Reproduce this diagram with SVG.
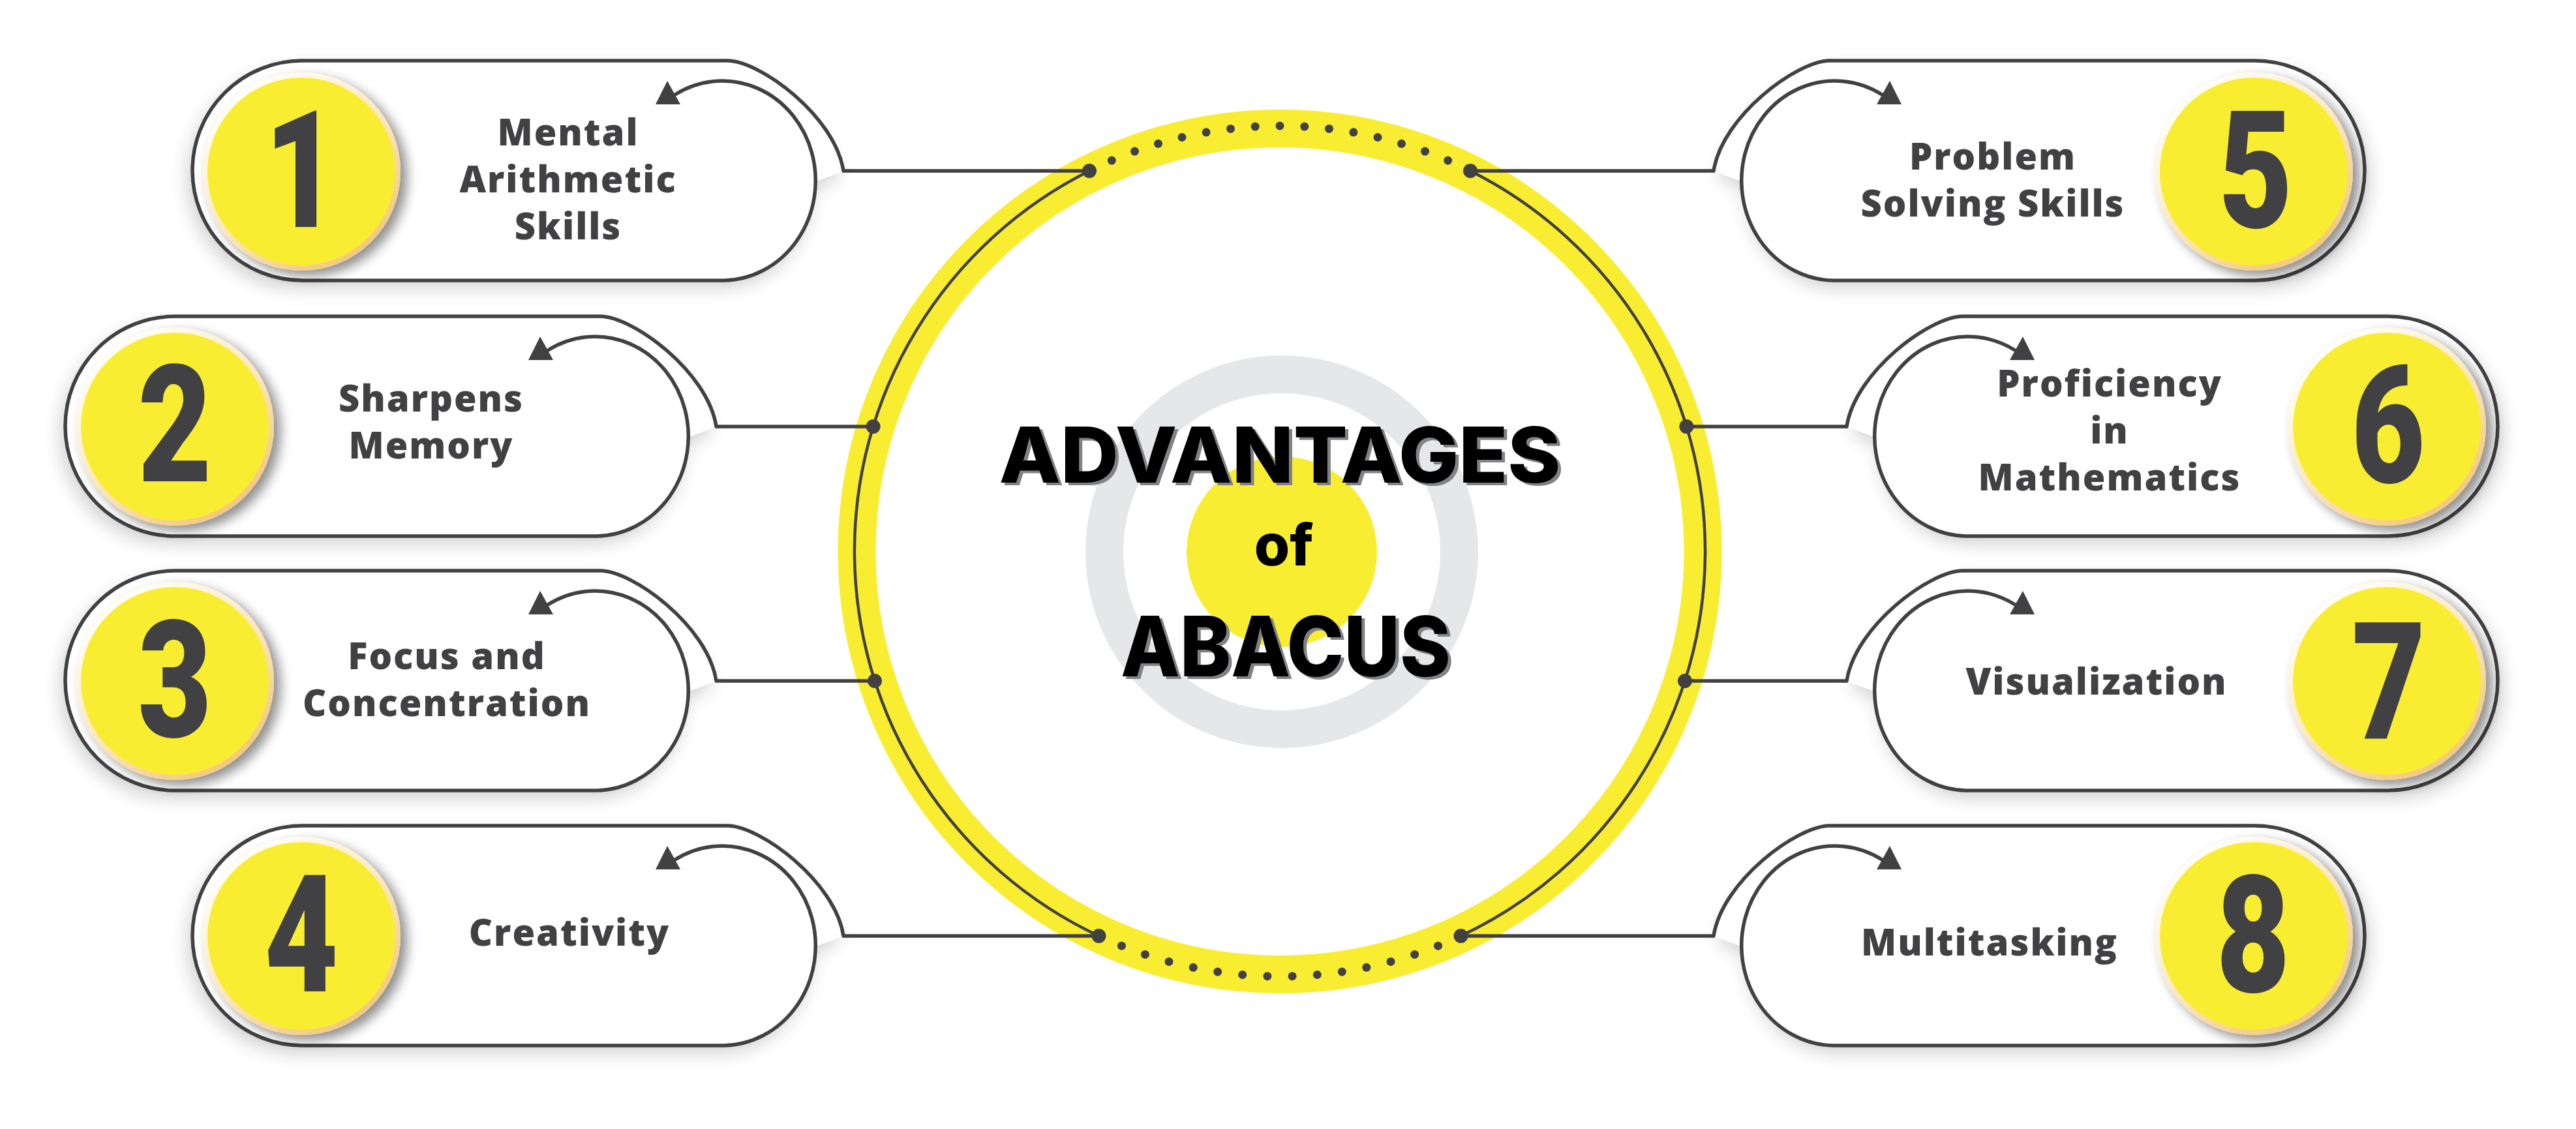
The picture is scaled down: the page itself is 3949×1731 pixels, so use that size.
<svg xmlns="http://www.w3.org/2000/svg" xmlns:xlink="http://www.w3.org/1999/xlink" width="3949" height="1731" viewBox="0 0 3949 1731">
<style>
  .ink { fill: none; stroke: #414042; stroke-width: 5.5; stroke-linejoin: round; stroke-linecap: round; }
  .arrow { fill: #414042; }
  .pillfill { fill: #ffffff; }
  .label { font-family: "Open Sans", "Liberation Sans", sans-serif; font-weight: 800; font-size: 56px; fill: #414042; text-anchor: middle; letter-spacing: 2px; }
  .digit { font-family: Roboto, "Liberation Sans", sans-serif; font-weight: 900; font-size: 250px; fill: #414042; text-anchor: middle; }
  .conn { fill: none; stroke: #414042; stroke-width: 5.5; }
  .arc { fill: none; stroke: #414042; stroke-width: 4.5; }
  .dot { fill: #414042; }
  .title { font-family: Inter, "Open Sans", "Liberation Sans", sans-serif; font-weight: 800; text-anchor: middle; }
</style>
<defs>
  <linearGradient id="rim" x1="0.2" y1="0.1" x2="0.8" y2="0.95">
    <stop offset="0" stop-color="#fffef6"/>
    <stop offset="0.5" stop-color="#fbe7bd"/>
    <stop offset="1" stop-color="#f2c679"/>
  </linearGradient>
  <filter id="badgeShadow" x="-30%" y="-30%" width="170%" height="170%">
    <feGaussianBlur in="SourceAlpha" stdDeviation="9"/>
    <feOffset dx="10" dy="8" result="b"/>
    <feComponentTransfer><feFuncA type="linear" slope="0.45"/></feComponentTransfer>
    <feMerge><feMergeNode/><feMergeNode in="SourceGraphic"/></feMerge>
  </filter>
  <filter id="pillShadow" x="-20%" y="-30%" width="140%" height="170%">
    <feGaussianBlur in="SourceAlpha" stdDeviation="14"/>
    <feOffset dx="-8" dy="12" result="b"/>
    <feComponentTransfer><feFuncA type="linear" slope="0.18"/></feComponentTransfer>
    <feMerge><feMergeNode/><feMergeNode in="SourceGraphic"/></feMerge>
  </filter>
  <g id="pill">
    <path class="pillfill" filter="url(#pillShadow)" d="M168.5,0 L820,0 C870,0 985,85 998,169 L958,184 A143,153 0 0 1 815,337 L168.5,337 A168.5,168.5 0 0 1 168.5,0 Z"/>
    <path class="ink" d="M998,169 C985,85 870,0 820,0 L168.5,0 A168.5,168.5 0 0 0 168.5,337 L815,337 A143,153 0 1 0 740,52"/>
    <polygon class="arrow" points="728,31 710,67 748,67"/>
  </g>
  <g id="badge">
    <circle r="152" fill="url(#rim)" filter="url(#badgeShadow)"/>
    <circle r="144" fill="#f9ed32"/>
  </g>
</defs>

<g id="center">
  <circle cx="1962" cy="845.5" r="648.5" fill="#ffffff" stroke="#f9ed32" stroke-width="58"/>
  <circle cx="1965" cy="846" r="272" fill="none" stroke="#e6e7e8" stroke-width="58"/>
  <circle cx="1965" cy="846" r="146" fill="#f9ed32"/>
  <text class="title" x="1967" y="744" font-size="118" fill="#808285" textLength="861" lengthAdjust="spacingAndGlyphs">ADVANTAGES</text>
  <text class="title" x="1962" y="740" font-size="118" fill="#000000" textLength="861" lengthAdjust="spacingAndGlyphs">ADVANTAGES</text>
  <text class="title" x="1968" y="867" font-size="88" fill="#000000">of</text>
  <text class="title" x="1976" y="1041" font-size="128" fill="#808285" textLength="506" lengthAdjust="spacingAndGlyphs">ABACUS</text>
  <text class="title" x="1971" y="1037" font-size="128" fill="#000000" textLength="506" lengthAdjust="spacingAndGlyphs">ABACUS</text>
</g>

<g id="connectors">
  <path class="arc" d="M1670,262 A652,652 0 0 0 1684.5,1435"/>
  <path class="arc" d="M2254,262 A652,652 0 0 1 2239.5,1435"/>
  <line class="conn" x1="1293" y1="262" x2="1670" y2="262"/>
  <line class="conn" x1="1098" y1="654" x2="1338.6" y2="654"/>
  <line class="conn" x1="1098" y1="1044" x2="1341" y2="1044"/>
  <line class="conn" x1="1293" y1="1435" x2="1684.5" y2="1435"/>
  <line class="conn" x1="2627" y1="262" x2="2254" y2="262"/>
  <line class="conn" x1="2831" y1="654" x2="2585.4" y2="654"/>
  <line class="conn" x1="2831" y1="1044" x2="2583" y2="1044"/>
  <line class="conn" x1="2627" y1="1435" x2="2239.5" y2="1435"/>
  <g class="dot">
    <circle cx="1670" cy="262" r="11"/>
    <circle cx="1338.6" cy="654" r="11"/>
    <circle cx="1341" cy="1044" r="11"/>
    <circle cx="1684.5" cy="1435" r="11"/>
    <circle cx="2254" cy="262" r="11"/>
    <circle cx="2585.4" cy="654" r="11"/>
    <circle cx="2583" cy="1044" r="11"/>
    <circle cx="2239.5" cy="1435" r="11"/>
    <circle cx="1704.3" cy="246.1" r="6.5"/>
    <circle cx="1739.5" cy="232.1" r="6.5"/>
    <circle cx="1775.5" cy="220.3" r="6.5"/>
    <circle cx="1812" cy="210.5" r="6.5"/>
    <circle cx="1849.1" cy="202.8" r="6.5"/>
    <circle cx="1886.5" cy="197.4" r="6.5"/>
    <circle cx="1924.2" cy="194.1" r="6.5"/>
    <circle cx="1962" cy="193" r="6.5"/>
    <circle cx="1999.8" cy="194.1" r="6.5"/>
    <circle cx="2037.5" cy="197.4" r="6.5"/>
    <circle cx="2074.9" cy="202.8" r="6.5"/>
    <circle cx="2112" cy="210.5" r="6.5"/>
    <circle cx="2148.5" cy="220.3" r="6.5"/>
    <circle cx="2184.5" cy="232.1" r="6.5"/>
    <circle cx="2219.7" cy="246.1" r="6.5"/>
    <circle cx="1719.5" cy="1450.2" r="6.5"/>
    <circle cx="1755.4" cy="1463.4" r="6.5"/>
    <circle cx="1792" cy="1474.4" r="6.5"/>
    <circle cx="1829.2" cy="1483.3" r="6.5"/>
    <circle cx="1866.7" cy="1490" r="6.5"/>
    <circle cx="1904.7" cy="1494.5" r="6.5"/>
    <circle cx="1942.9" cy="1496.7" r="6.5"/>
    <circle cx="1981.1" cy="1496.7" r="6.5"/>
    <circle cx="2019.3" cy="1494.5" r="6.5"/>
    <circle cx="2057.3" cy="1490" r="6.5"/>
    <circle cx="2094.8" cy="1483.3" r="6.5"/>
    <circle cx="2132" cy="1474.4" r="6.5"/>
    <circle cx="2168.6" cy="1463.4" r="6.5"/>
    <circle cx="2204.5" cy="1450.2" r="6.5"/>
  </g>
</g>

<g id="node-1">
  <use href="#pill" xlink:href="#pill" transform="translate(295,93)"/>
  <use href="#badge" xlink:href="#badge" transform="translate(462,263)"/>
  <text class="digit" transform="translate(462,348) scale(0.78,1)">1</text>
  <text class="label" x="871" y="223">Mental</text>
  <text class="label" x="871" y="295">Arithmetic</text>
  <text class="label" x="871" y="367">Skills</text>
</g>
<g id="node-2">
  <use href="#pill" xlink:href="#pill" transform="translate(100,485)"/>
  <use href="#badge" xlink:href="#badge" transform="translate(268,654)"/>
  <text class="digit" transform="translate(268,738) scale(0.78,1)">2</text>
  <text class="label" x="661" y="631">Sharpens</text>
  <text class="label" x="661" y="703">Memory</text>
</g>
<g id="node-3">
  <use href="#pill" xlink:href="#pill" transform="translate(100,875)"/>
  <use href="#badge" xlink:href="#badge" transform="translate(268,1044)"/>
  <text class="digit" transform="translate(268,1130) scale(0.78,1)">3</text>
  <text class="label" x="685" y="1026">Focus and</text>
  <text class="label" x="685" y="1098">Concentration</text>
</g>
<g id="node-4">
  <use href="#pill" xlink:href="#pill" transform="translate(295,1266)"/>
  <use href="#badge" xlink:href="#badge" transform="translate(462,1435)"/>
  <text class="digit" transform="translate(462,1520) scale(0.78,1)">4</text>
  <text class="label" x="873" y="1450">Creativity</text>
</g>
<g id="node-5">
  <use href="#pill" xlink:href="#pill" transform="translate(3625,93) scale(-1,1)"/>
  <use href="#badge" xlink:href="#badge" transform="translate(3455,263)"/>
  <text class="digit" transform="translate(3458,349) scale(0.78,1)">5</text>
  <text class="label" x="3055" y="260">Problem</text>
  <text class="label" x="3055" y="332">Solving Skills</text>
</g>
<g id="node-6">
  <use href="#pill" xlink:href="#pill" transform="translate(3829,485) scale(-1,1)"/>
  <use href="#badge" xlink:href="#badge" transform="translate(3659,654)"/>
  <text class="digit" transform="translate(3661,740) scale(0.78,1)">6</text>
  <text class="label" x="3234" y="608">Proficiency</text>
  <text class="label" x="3234" y="680">in</text>
  <text class="label" x="3234" y="752">Mathematics</text>
</g>
<g id="node-7">
  <use href="#pill" xlink:href="#pill" transform="translate(3829,875) scale(-1,1)"/>
  <use href="#badge" xlink:href="#badge" transform="translate(3659,1044)"/>
  <text class="digit" transform="translate(3662,1133) scale(0.78,1)">7</text>
  <text class="label" x="3214" y="1065">Visualization</text>
</g>
<g id="node-8">
  <use href="#pill" xlink:href="#pill" transform="translate(3625,1266) scale(-1,1)"/>
  <use href="#badge" xlink:href="#badge" transform="translate(3455,1435)"/>
  <text class="digit" transform="translate(3454,1521) scale(0.78,1)">8</text>
  <text class="label" x="3050" y="1465">Multitasking</text>
</g>
</svg>
